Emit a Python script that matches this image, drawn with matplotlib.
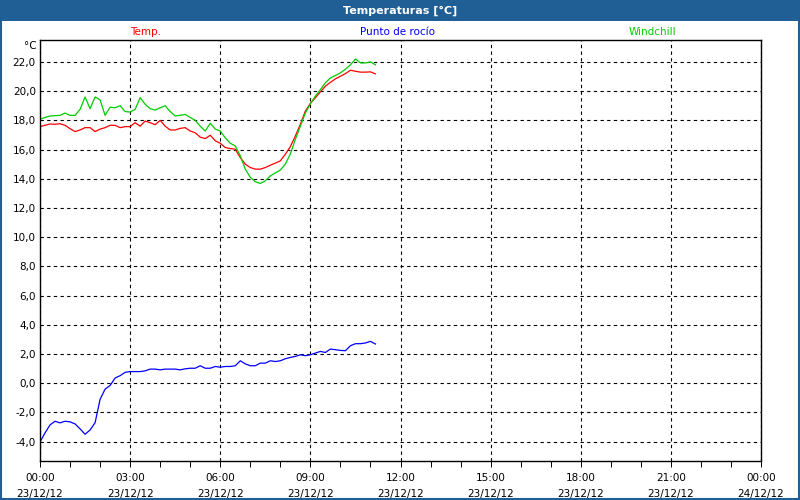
import matplotlib
matplotlib.use("Agg")
import matplotlib.pyplot as plt
from matplotlib.patches import Rectangle
from matplotlib.ticker import MultipleLocator, FuncFormatter

# lecturas cada 10 minutos desde las 00:00 del 23/12/12
minutes = [10 * k for k in range(68)]

temp = [17.57, 17.66, 17.75, 17.73, 17.77, 17.66, 17.43, 17.23, 17.34, 17.5,
        17.5, 17.23, 17.4, 17.5, 17.66, 17.66, 17.5, 17.57, 17.57, 17.84,
        17.6, 17.95, 17.84, 17.7, 18.0, 17.6, 17.34, 17.34, 17.45, 17.5,
        17.27, 17.15, 16.85, 16.75, 16.98, 16.6, 16.43, 16.14, 16.07, 16.02,
        15.45, 15.0, 14.77, 14.66, 14.66, 14.77, 14.93, 15.07, 15.23, 15.68,
        16.2, 16.93, 17.73, 18.64, 19.16, 19.55, 19.95, 20.34, 20.6, 20.84,
        21.02, 21.2, 21.43, 21.36, 21.3, 21.3, 21.32, 21.18]

dew_point = [-4.02, -3.4, -2.85, -2.6, -2.71, -2.6, -2.64, -2.78, -3.12, -3.49,
             -3.2, -2.7, -1.1, -0.4, -0.15, 0.36, 0.52, 0.75, 0.8, 0.8,
             0.8, 0.85, 0.97, 0.97, 0.92, 0.97, 0.97, 0.97, 0.92, 0.99,
             1.03, 1.03, 1.2, 1.03, 1.03, 1.15, 1.1, 1.15, 1.15, 1.2,
             1.54, 1.33, 1.2, 1.2, 1.38, 1.38, 1.54, 1.49, 1.54, 1.68,
             1.77, 1.84, 1.95, 1.89, 1.95, 2.07, 2.18, 2.11, 2.34, 2.3,
             2.25, 2.23, 2.57, 2.71, 2.71, 2.76, 2.87, 2.69]

windchill = [18.07, 18.2, 18.3, 18.32, 18.34, 18.5, 18.34, 18.34, 18.75, 19.6,
             18.8, 19.6, 19.4, 18.34, 18.9, 18.86, 19.0, 18.6, 18.57, 18.75,
             19.55, 19.1, 18.8, 18.7, 18.86, 19.0, 18.6, 18.3, 18.35, 18.4,
             18.2, 18.0, 17.6, 17.27, 17.8, 17.4, 17.27, 16.8, 16.43, 16.25,
             15.57, 14.66, 14.1, 13.8, 13.68, 13.86, 14.2, 14.4, 14.6, 15.0,
             15.7, 16.7, 17.6, 18.5, 19.14, 19.66, 20.1, 20.57, 20.9, 21.07,
             21.25, 21.5, 21.8, 22.2, 21.93, 21.93, 22.0, 21.8]

tick_hours = [0, 3, 6, 9, 12, 15, 18, 21, 24]
tick_labels = ["00:00\n23/12/12", "03:00\n23/12/12", "06:00\n23/12/12",
               "09:00\n23/12/12", "12:00\n23/12/12", "15:00\n23/12/12",
               "18:00\n23/12/12", "21:00\n23/12/12", "00:00\n24/12/12"]

hours = [m / 60 for m in minutes]

fig = plt.figure(figsize=(8, 5), dpi=100)
fig.patch.set_facecolor("white")

# barra de titulo y marco de la ventana
bar_color = "#1f5f95"
fig.patches.append(Rectangle((0, 0.958), 1, 0.042, transform=fig.transFigure,
                             facecolor=bar_color, edgecolor="none", zorder=0))
fig.patches.append(Rectangle((0.001, 0.002), 0.998, 0.996, transform=fig.transFigure,
                             facecolor="none", edgecolor=bar_color, linewidth=1.5, zorder=0))
fig.text(0.5, 0.979, "Temperaturas [°C]", color="white", fontsize=8,
         fontweight="bold", ha="center", va="center")

ax = fig.add_axes([0.05, 0.0786, 0.90125, 0.8414])
ax.plot(hours, temp, color="#ff0000", linewidth=0.9)
ax.plot(hours, dew_point, color="#0000ff", linewidth=0.9)
ax.plot(hours, windchill, color="#00cc00", linewidth=0.9)

ax.set_xlim(0, 24)
ax.set_ylim(-5.3, 23.5)
ax.set_xticks(tick_hours)
ax.set_xticklabels(tick_labels, fontsize=7.5, linespacing=1.7)
ax.xaxis.set_minor_locator(MultipleLocator(1))
ax.yaxis.set_major_locator(MultipleLocator(2))
ax.yaxis.set_major_formatter(FuncFormatter(lambda v, p: f"{v:.1f}".replace(".", ",")))
ax.tick_params(axis="y", length=0, labelsize=7.5, pad=3)
ax.tick_params(axis="x", which="both", length=4, width=0.7, pad=5)

ax.grid(True, color="black", linestyle=(0, (3, 3)), linewidth=0.8)
for s in ax.spines.values():
    s.set_linewidth(1.0)
    s.set_color("black")

fig.text(30 / 800, 1 - 46 / 500, "°C", fontsize=7.5, ha="center", va="center")
fig.text(146 / 800, 0.936, "Temp.", color="#ff0000", fontsize=7.5, ha="center", va="center")
fig.text(398 / 800, 0.936, "Punto de rocío", color="#0000ff", fontsize=7.5, ha="center", va="center")
fig.text(652 / 800, 0.936, "Windchill", color="#00cc00", fontsize=7.5, ha="center", va="center")

fig.savefig("out.png", dpi=100)
